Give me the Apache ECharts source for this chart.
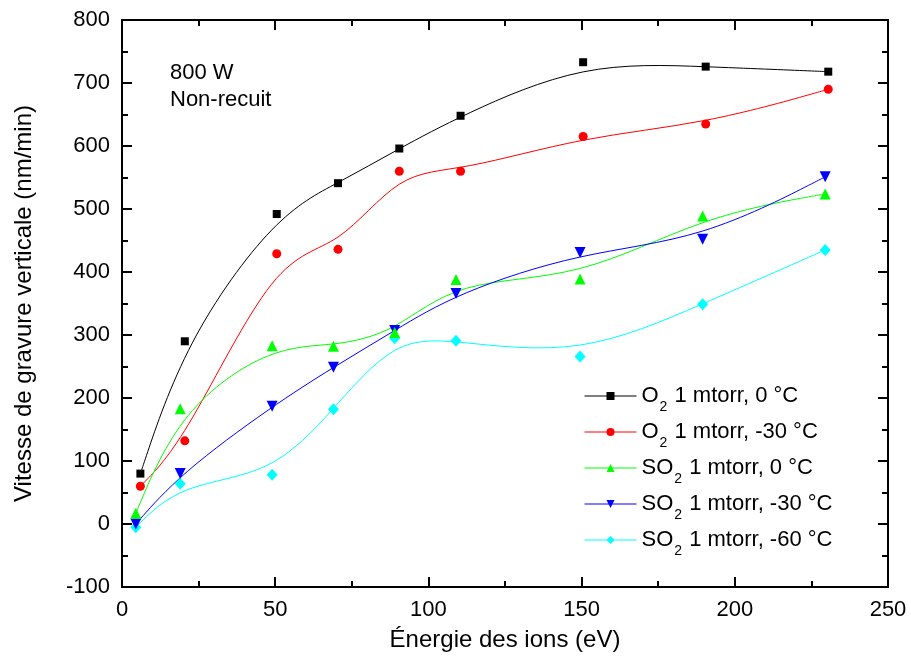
<!DOCTYPE html>
<html>
<head>
<meta charset="utf-8">
<script src="https://cdn.jsdelivr.net/npm/echarts@6/dist/echarts.min.js"></script>
<style>
html,body{margin:0;padding:0;background:#fff;}
#chart{width:911px;height:657px;}
</style>
</head>
<body>
<div id="chart"></div>
<script>
// ---- data ----
const xO2 = [6, 20.5, 50.5, 70.5, 90.5, 110.5, 150.5, 190.5, 230.5];
const xSO2 = [4.5, 19, 49, 69, 89, 109, 149.5, 189.5, 229.5];
const o2_0 = [80, 290, 492, 541, 596, 648, 733, 726, 718];
const o2_m30 = [60, 132, 429, 436, 560, 560, 615, 635, 690];
const so2_0 = [17, 183, 283, 282, 304, 388, 389, 489, 524];
const so2_m30 = [0, 80, 187, 249, 307, 366, 431, 452, 551];
const so2_m60 = [-5, 64, 78, 182, 295, 291, 266, 349, 435];
const seriesNames = ['O2 1 mtorr, 0 °C', 'O2 1 mtorr, -30 °C', 'SO2 1 mtorr, 0 °C', 'SO2 1 mtorr, -30 °C', 'SO2 1 mtorr, -60 °C'];
const xTicks = [0, 50, 100, 150, 200, 250];
const yTicks = [-100, 0, 100, 200, 300, 400, 500, 600, 700, 800];
const annotation = ['800 W', 'Non-recuit'];
const xName = 'Énergie des ions (eV)';
const yName = 'Vitesse de gravure verticale (nm/min)';

const FONT = 'Liberation Sans, Arial, Helvetica, sans-serif';
const pair = (xs, ys) => xs.map((x, i) => [x, ys[i]]);

const styles = [
  {color: '#000000', symbol: 'rect', size: 8, rot: 0},
  {color: '#ff0000', symbol: 'circle', size: 9, rot: 0},
  {color: '#00ff00', symbol: 'triangle', size: 11, rot: 0},
  {color: '#0000ff', symbol: 'triangle', size: 11, rot: 180},
  {color: '#00ffff', symbol: 'diamond', size: [11, 12], rot: 0}
];
const datas = [pair(xO2, o2_0), pair(xO2, o2_m30), pair(xSO2, so2_0), pair(xSO2, so2_m30), pair(xSO2, so2_m60)];

// Markers (and legend entries): line series with hidden line
const markerSeries = datas.map((d, i) => ({
  name: seriesNames[i],
  type: 'line',
  data: d,
  symbol: styles[i].symbol,
  symbolSize: styles[i].size,
  symbolRotate: styles[i].rot,
  showSymbol: true,
  itemStyle: {color: styles[i].color},
  lineStyle: {color: styles[i].color, width: 1, opacity: 0},
  z: 20 - i
}));

// B-spline curve drawn through the chart's own coordinate system (data points as control points)
function bsplineRender(d, color) {
  return function (params, api) {
    if (params.dataIndex !== 0) return;
    const p = d.map(pt => api.coord(pt));
    const q = [p[0], p[0]].concat(p, [p[p.length - 1], p[p.length - 1]]);
    let path = 'M' + p[0][0] + ' ' + p[0][1];
    for (let j = 0; j + 3 < q.length; j++) {
      const P1 = q[j + 1], P2 = q[j + 2], P3 = q[j + 3];
      const b1 = [(2 * P1[0] + P2[0]) / 3, (2 * P1[1] + P2[1]) / 3];
      const b2 = [(P1[0] + 2 * P2[0]) / 3, (P1[1] + 2 * P2[1]) / 3];
      const b3 = [(P1[0] + 4 * P2[0] + P3[0]) / 6, (P1[1] + 4 * P2[1] + P3[1]) / 6];
      path += ' C' + b1[0] + ' ' + b1[1] + ' ' + b2[0] + ' ' + b2[1] + ' ' + b3[0] + ' ' + b3[1];
    }
    return {
      type: 'path',
      shape: {pathData: path},
      style: {stroke: color, fill: null, lineWidth: 1},
      silent: true
    };
  };
}
const curveSeries = datas.map((d, i) => ({
  name: 'curve' + i,
  type: 'custom',
  data: d,
  encode: {x: 0, y: 1},
  renderItem: bsplineRender(d, styles[i].color),
  clip: true,
  z: 5
}));

const axisLineStyle = {show: true, onZero: false, lineStyle: {color: '#000', width: 2}};
const tickStyle = {show: true, inside: true, length: 10, lineStyle: {color: '#000', width: 2}};
const minorTick = {show: true, splitNumber: 2, length: 6, lineStyle: {color: '#000', width: 2}};

function xAx(pos, showLabel) {
  return {
    type: 'value', position: pos, min: xTicks[0], max: xTicks[xTicks.length - 1], interval: 50,
    axisLine: axisLineStyle, axisTick: tickStyle, minorTick: minorTick,
    splitLine: {show: false},
    axisLabel: {show: showLabel, fontSize: 22, color: '#000', margin: 12, fontFamily: FONT},
    name: showLabel ? xName : '', nameLocation: 'middle', nameGap: 41,
    nameTextStyle: {fontSize: 24, color: '#000', fontFamily: FONT}
  };
}
function yAx(pos, showLabel) {
  return {
    type: 'value', position: pos, min: yTicks[0], max: yTicks[yTicks.length - 1], interval: 100,
    axisLine: axisLineStyle, axisTick: tickStyle, minorTick: minorTick,
    splitLine: {show: false},
    axisLabel: {show: showLabel, fontSize: 22, color: '#000', margin: 12, fontFamily: FONT},
    name: showLabel ? yName : '', nameLocation: 'middle', nameGap: 86, nameRotate: 90,
    nameTextStyle: {fontSize: 24, color: '#000', fontFamily: FONT}
  };
}

const chart = echarts.init(document.getElementById('chart'), null, {renderer: 'canvas'});
chart.setOption({
  animation: false,
  backgroundColor: '#fff',
  grid: {left: 122, right: 23, top: 20, bottom: 70, containLabel: false},
  xAxis: [xAx('bottom', true), xAx('top', false)],
  yAxis: [yAx('left', true), yAx('right', false)],
  legend: {
    data: seriesNames,
    orient: 'vertical',
    left: 584, top: 378,
    padding: 0,
    itemGap: 0,
    itemWidth: 52, itemHeight: 10,
    lineStyle: {width: 1, opacity: 1},
    textStyle: {
      color: '#000', fontFamily: FONT,
      rich: {
        m: {fontSize: 22, lineHeight: 36, color: '#000', fontFamily: FONT},
        s: {fontSize: 14, lineHeight: 14, padding: [22, 1, 0, 1], color: '#000', fontFamily: FONT}
      }
    },
    formatter: function (name) {
      const m = name.match(/^(O|SO)2(.*)$/);
      if (m) return '{m|' + m[1] + '}{s|2}{m|' + m[2] + '}';
      return '{m|' + name + '}';
    }
  },
  graphic: annotation.map((t, i) => ({
    type: 'text', left: 170, top: 62 + i * 27, z: 100,
    style: {text: t, font: '22px ' + FONT, fill: '#000'}
  })),
  series: markerSeries.concat(curveSeries)
});
</script>
</body>
</html>
